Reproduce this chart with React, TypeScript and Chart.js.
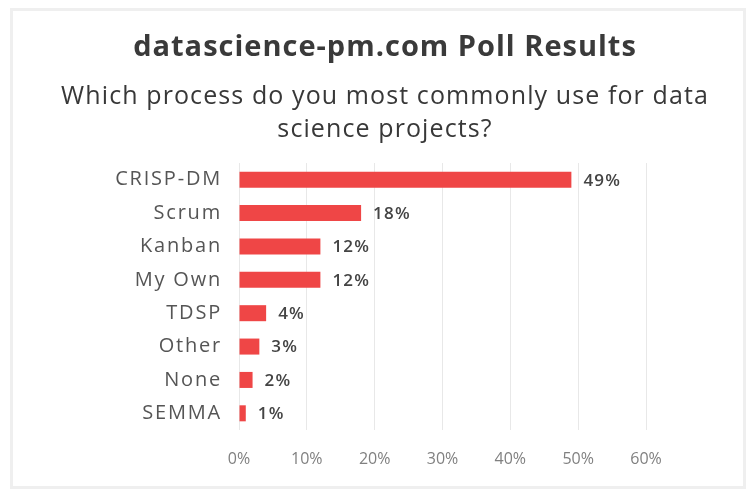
import React, { useEffect, useRef } from "react";
import { Chart, registerables } from "chart.js";

Chart.register(...registerables);

const categories = ["CRISP-DM", "Scrum", "Kanban", "My Own", "TDSP", "Other", "None", "SEMMA"];
const shares = [49, 18, 12, 12, 4, 3, 2, 1];
const xTicks = [0, 10, 20, 30, 40, 50, 60];

const TITLE = "datascience-pm.com Poll Results";
const SUBTITLE = ["Which process do you most commonly use for data", "science projects?"];

const FONT = "'Open Sans', sans-serif";

function setSpacing(ctx: any, px: number) {
  if ("letterSpacing" in ctx) ctx.letterSpacing = `${px}px`;
}

// Heading block, the value written past each bar, and the letter spacing
// used by the category labels (those are drawn on a layer above the bars).
const headingAndValues = {
  id: "headingAndValues",
  beforeDraw(chart: any) {
    const { ctx } = chart;
    const cx = chart.width / 2 + 7;
    ctx.save();
    ctx.textAlign = "center";
    ctx.textBaseline = "middle";
    setSpacing(ctx, 1);
    ctx.font = `bold 29px ${FONT}`;
    ctx.fillStyle = "#3a3a3a";
    ctx.fillText(TITLE, cx, 37);
    setSpacing(ctx, 1.1);
    ctx.font = `25px ${FONT}`;
    ctx.fillStyle = "#383838";
    SUBTITLE.forEach((line, i) => ctx.fillText(line, cx, 86 + i * 33));
    ctx.restore();
    setSpacing(ctx, 0);
  },
  afterDatasetsDraw(chart: any) {
    const { ctx } = chart;
    const meta = chart.getDatasetMeta(0);
    ctx.save();
    setSpacing(ctx, 1.2);
    ctx.font = `600 17px ${FONT}`;
    ctx.fillStyle = "#444444";
    ctx.textAlign = "left";
    ctx.textBaseline = "middle";
    meta.data.forEach((bar: any, i: number) => {
      ctx.fillText(`${shares[i]}%`, bar.x + 12, bar.y + 1);
    });
    ctx.restore();
    setSpacing(ctx, 1.8);
  },
  afterDraw(chart: any) {
    setSpacing(chart.ctx, 0);
  },
};

export default function App() {
  const canvasRef = useRef<HTMLCanvasElement | null>(null);

  useEffect(() => {
    if (!canvasRef.current) return;
    const chart = new Chart(canvasRef.current, {
      type: "bar",
      data: {
        labels: categories,
        datasets: [
          {
            data: shares,
            backgroundColor: "#ef4646",
            barPercentage: 0.8,
            categoryPercentage: 0.6,
          },
        ],
      },
      options: {
        indexAxis: "y",
        animation: false,
        responsive: false,
        maintainAspectRatio: false,
        layout: { padding: { left: 0, right: 97, top: 152, bottom: 17 } },
        plugins: {
          legend: { display: false },
          tooltip: { enabled: false },
          title: { display: false },
        },
        scales: {
          x: {
            min: 0,
            max: 60,
            afterBuildTicks(scale: any) {
              scale.ticks = xTicks.map((v) => ({ value: v }));
            },
            afterFit(scale: any) {
              scale.height = 39;
            },
            grid: { color: "#e8e8e8", drawTicks: false },
            border: { display: false },
            ticks: {
              padding: 20,
              color: "#808080",
              font: { family: FONT, size: 16 },
              callback: (v: any) => `${v}%`,
            },
          },
          y: {
            afterFit(scale: any) {
              scale.width = 226;
            },
            grid: { display: false, drawTicks: false },
            border: { display: false },
            ticks: {
              z: 1,
              padding: 17,
              color: "#555555",
              font: { family: FONT, size: 20 },
            },
          },
        },
      },
      plugins: [headingAndValues],
    });
    return () => chart.destroy();
  }, []);

  return (
    <div
      style={{
        position: "absolute",
        left: 10,
        top: 8,
        width: 736,
        height: 481,
        border: "3px solid #efefef",
        boxSizing: "border-box",
        background: "#ffffff",
      }}
    >
      <canvas ref={canvasRef} width={730} height={475} style={{ display: "block" }} />
    </div>
  );
}
